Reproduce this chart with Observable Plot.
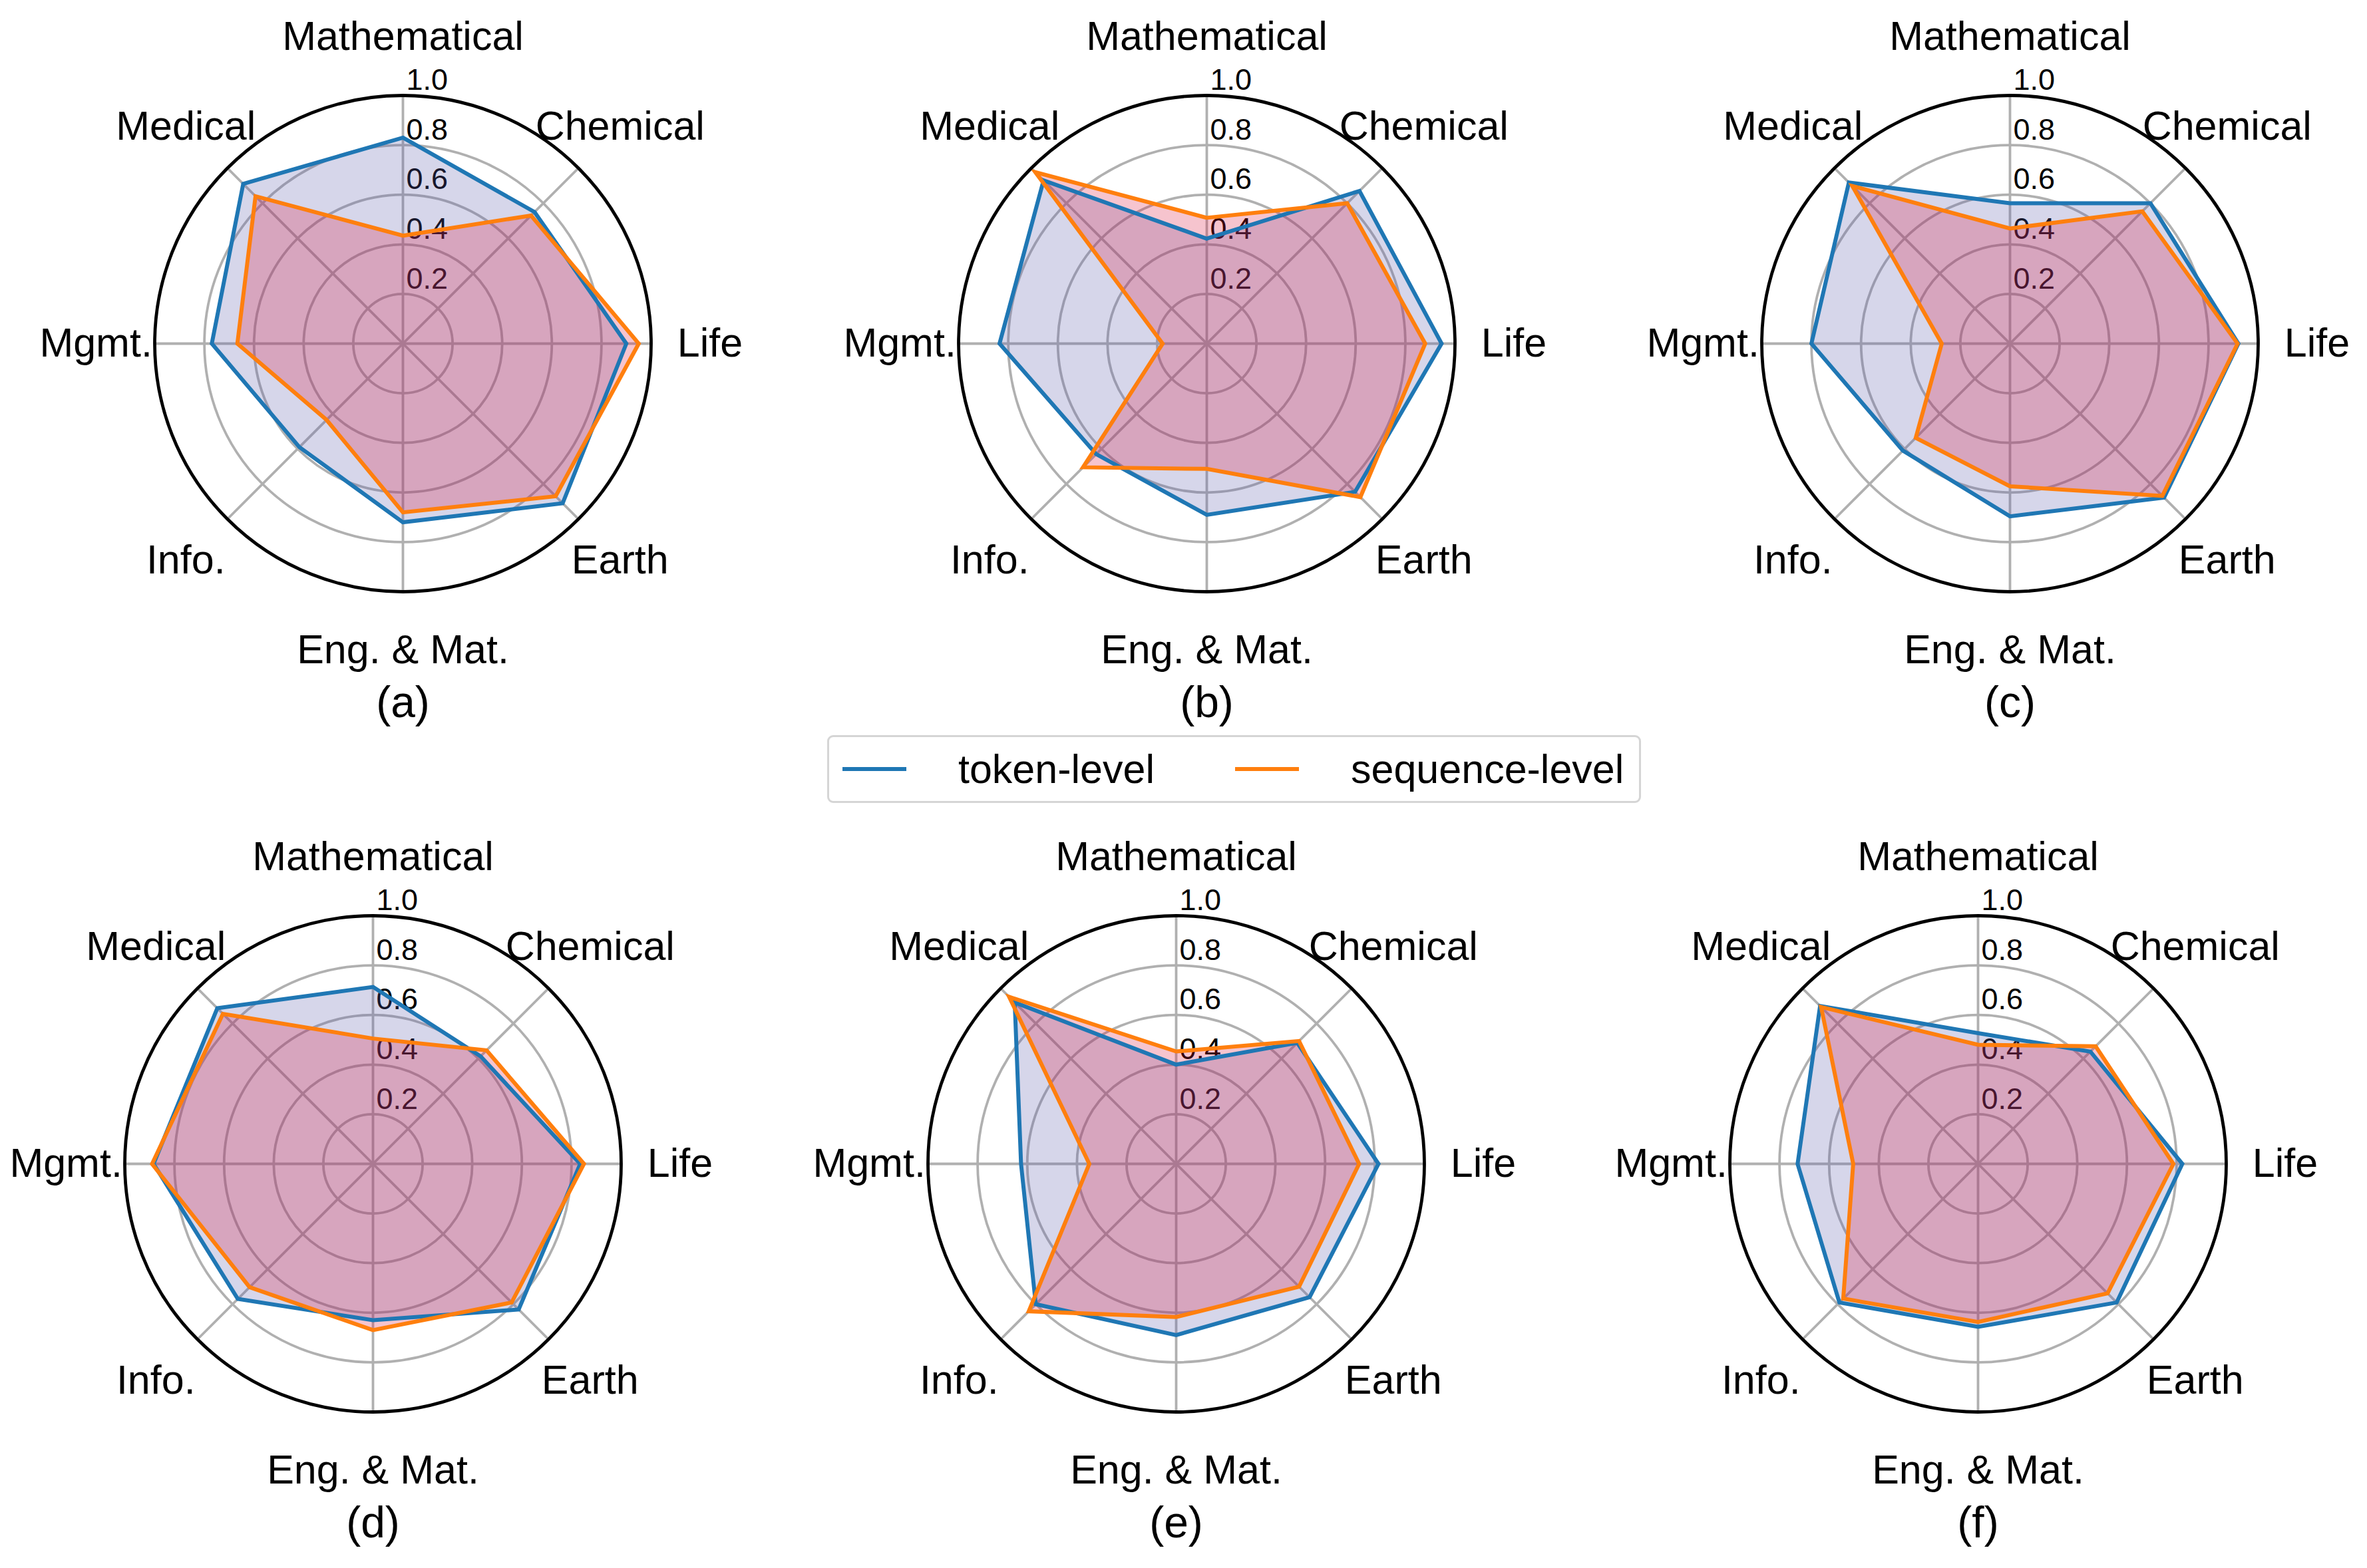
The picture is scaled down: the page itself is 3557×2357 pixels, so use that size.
<!DOCTYPE html>
<html>
<head>
<meta charset="utf-8">
<script src="https://cdn.jsdelivr.net/npm/d3@7"></script>
<script src="https://cdn.jsdelivr.net/npm/@observablehq/plot@0.6"></script>
<style>
  html, body { margin: 0; padding: 0; background: #fff; overflow: hidden; }
  #page { position: relative; width: 3557px; height: 2357px; font-family: "Liberation Sans", Arial, sans-serif; }
  .panel { position: absolute; width: 1100px; height: 1180px; }
  .panel svg { overflow: visible; max-width: none !important; }
  #legend { position: absolute; left: 1243px; top: 1105px; width: 1217px; height: 96px;
            border: 3px solid #d5d5d5; border-radius: 9px; box-sizing: content-box; }
  #legend .item { position: absolute; top: 0; height: 96px; display: flex; align-items: center; font-size: 61px; color: #000; }
</style>
</head>
<body>
<div id="page"></div>
<script>
// ---- data ----
const categories = ["Mathematical", "Chemical", "Life", "Earth", "Eng. & Mat.", "Info.", "Mgmt.", "Medical"];
const panelLabels = ["(a)", "(b)", "(c)", "(d)", "(e)", "(f)"];
const seriesNames = ["token-level", "sequence-level"];

const tokenA = [0.83, 0.75, 0.90, 0.91, 0.72, 0.59, 0.77, 0.91];
const seqA   = [0.435, 0.73, 0.95, 0.87, 0.68, 0.435, 0.667, 0.84];
const tokenB = [0.423, 0.87, 0.946, 0.845, 0.69, 0.63, 0.835, 0.93];
const seqB   = [0.507, 0.80, 0.88, 0.875, 0.505, 0.705, 0.178, 0.977];
const tokenC = [0.566, 0.80, 0.92, 0.878, 0.696, 0.61, 0.80, 0.918];
const seqC   = [0.464, 0.754, 0.917, 0.868, 0.575, 0.537, 0.275, 0.898];
const tokenD = [0.713, 0.613, 0.835, 0.83, 0.63, 0.77, 0.884, 0.887];
const seqD   = [0.505, 0.647, 0.85, 0.79, 0.67, 0.703, 0.89, 0.855];
const tokenE = [0.40, 0.69, 0.815, 0.76, 0.69, 0.80, 0.625, 0.92];
const seqE   = [0.453, 0.70, 0.737, 0.70, 0.617, 0.84, 0.35, 0.952];
const tokenF = [0.527, 0.64, 0.823, 0.79, 0.657, 0.79, 0.727, 0.90];
const seqF   = [0.48, 0.67, 0.787, 0.738, 0.637, 0.768, 0.503, 0.894];

const rTicks = [0.2, 0.4, 0.6, 0.8, 1.0];
const rTickLabels = ["0.2", "0.4", "0.6", "0.8", "1.0"];

// ---- layout / style ----
const R = 373;                 // pixel radius of value 1.0
const W = 1100, H = 1180;      // panel svg size
const CX = 550, CY = 516;      // centre inside panel
const panelPos = [[55, 0], [1263, 0], [2470, 0], [10, 1233], [1217, 1233], [2422, 1233]];
const tokenColor = "#1f77b4", seqColor = "#ff7f0e";
const tokenFill = "#5b5bad", seqFill = "crimson";
const gridColor = "#b0b0b0";
const font = "Liberation Sans, Arial, sans-serif";

const tokenSeries = [tokenA, tokenB, tokenC, tokenD, tokenE, tokenF];
const seqSeries = [seqA, seqB, seqC, seqD, seqE, seqF];

const angle = i => i * 2 * Math.PI / categories.length;
const toPoints = vals => vals.map((v, i) => ({cat: categories[i], v, x: v * Math.sin(angle(i)), y: v * Math.cos(angle(i))}));

const page = document.getElementById("page");

panelLabels.forEach((lab, p) => {
  const tok = toPoints(tokenSeries[p]);
  const seq = toPoints(seqSeries[p]);
  const spokes = categories.map((c, i) => ({cat: c, x: Math.sin(angle(i)), y: Math.cos(angle(i))}));
  const labelR = 1.237;
  const catLabels = categories.map((c, i) => ({cat: c, x: labelR * Math.sin(angle(i)), y: labelR * Math.cos(angle(i))}));

  const chart = Plot.plot({
    width: W, height: H,
    margin: 0,
    style: {fontFamily: font, background: "transparent", overflow: "visible", maxWidth: "none"},
    x: {domain: [-CX / R, (W - CX) / R], range: [0, W], axis: null},
    y: {domain: [-(H - CY) / R, CY / R], range: [H, 0], axis: null},
    r: {type: "linear", domain: [0, 1], range: [0, R]},
    marks: [
      Plot.dot(rTicks.slice(0, -1), {x: 0, y: 0, r: d => d, stroke: gridColor, strokeWidth: 3.8, fill: "none"}),
      Plot.link(spokes, {x1: 0, y1: 0, x2: "x", y2: "y", stroke: gridColor, strokeWidth: 3.8}),
      Plot.text(rTicks, {x: 0, y: d => d + 0.022, text: (d, i) => rTickLabels[i], textAnchor: "start", lineAnchor: "bottom", dx: 5, fontSize: 45, fill: "#000"}),
      Plot.line(tok, {x: "x", y: "y", curve: "linear-closed", fill: tokenFill, fillOpacity: 0.25, stroke: "none"}),
      Plot.line(seq, {x: "x", y: "y", curve: "linear-closed", fill: seqFill, fillOpacity: 0.25, stroke: "none"}),
      Plot.line(tok, {x: "x", y: "y", curve: "linear-closed", stroke: tokenColor, strokeWidth: 6, strokeLinejoin: "miter", strokeMiterlimit: 10}),
      Plot.line(seq, {x: "x", y: "y", curve: "linear-closed", stroke: seqColor, strokeWidth: 6, strokeLinejoin: "miter", strokeMiterlimit: 10}),
      Plot.dot([1.0], {x: 0, y: 0, r: d => d, stroke: "#000", strokeWidth: 4.8, fill: "none"}),
      Plot.text(catLabels, {x: "x", y: "y", text: "cat", fontSize: 61, fill: "#000"}),
      Plot.text([lab], {x: 0, y: -1.45, text: d => d, fontSize: 66, fill: "#000"})
    ]
  });
  const div = document.createElement("div");
  div.className = "panel";
  div.style.left = panelPos[p][0] + "px";
  div.style.top = panelPos[p][1] + "px";
  div.appendChild(chart);
  page.appendChild(div);
});

// ---- legend ----
const legend = document.createElement("div");
legend.id = "legend";
const legendItems = [
  {name: seriesNames[0], color: tokenColor, lineX: 20, textX: 194},
  {name: seriesNames[1], color: seqColor, lineX: 610, textX: 784}
];
legendItems.forEach(it => {
  const line = document.createElement("div");
  line.className = "item";
  line.style.left = it.lineX + "px";
  line.innerHTML = `<svg width="96" height="10"><line x1="0" x2="96" y1="5" y2="5" stroke="${it.color}" stroke-width="6"/></svg>`;
  legend.appendChild(line);
  const txt = document.createElement("div");
  txt.className = "item";
  txt.style.left = it.textX + "px";
  txt.textContent = it.name;
  legend.appendChild(txt);
});
page.appendChild(legend);
</script>
</body>
</html>
